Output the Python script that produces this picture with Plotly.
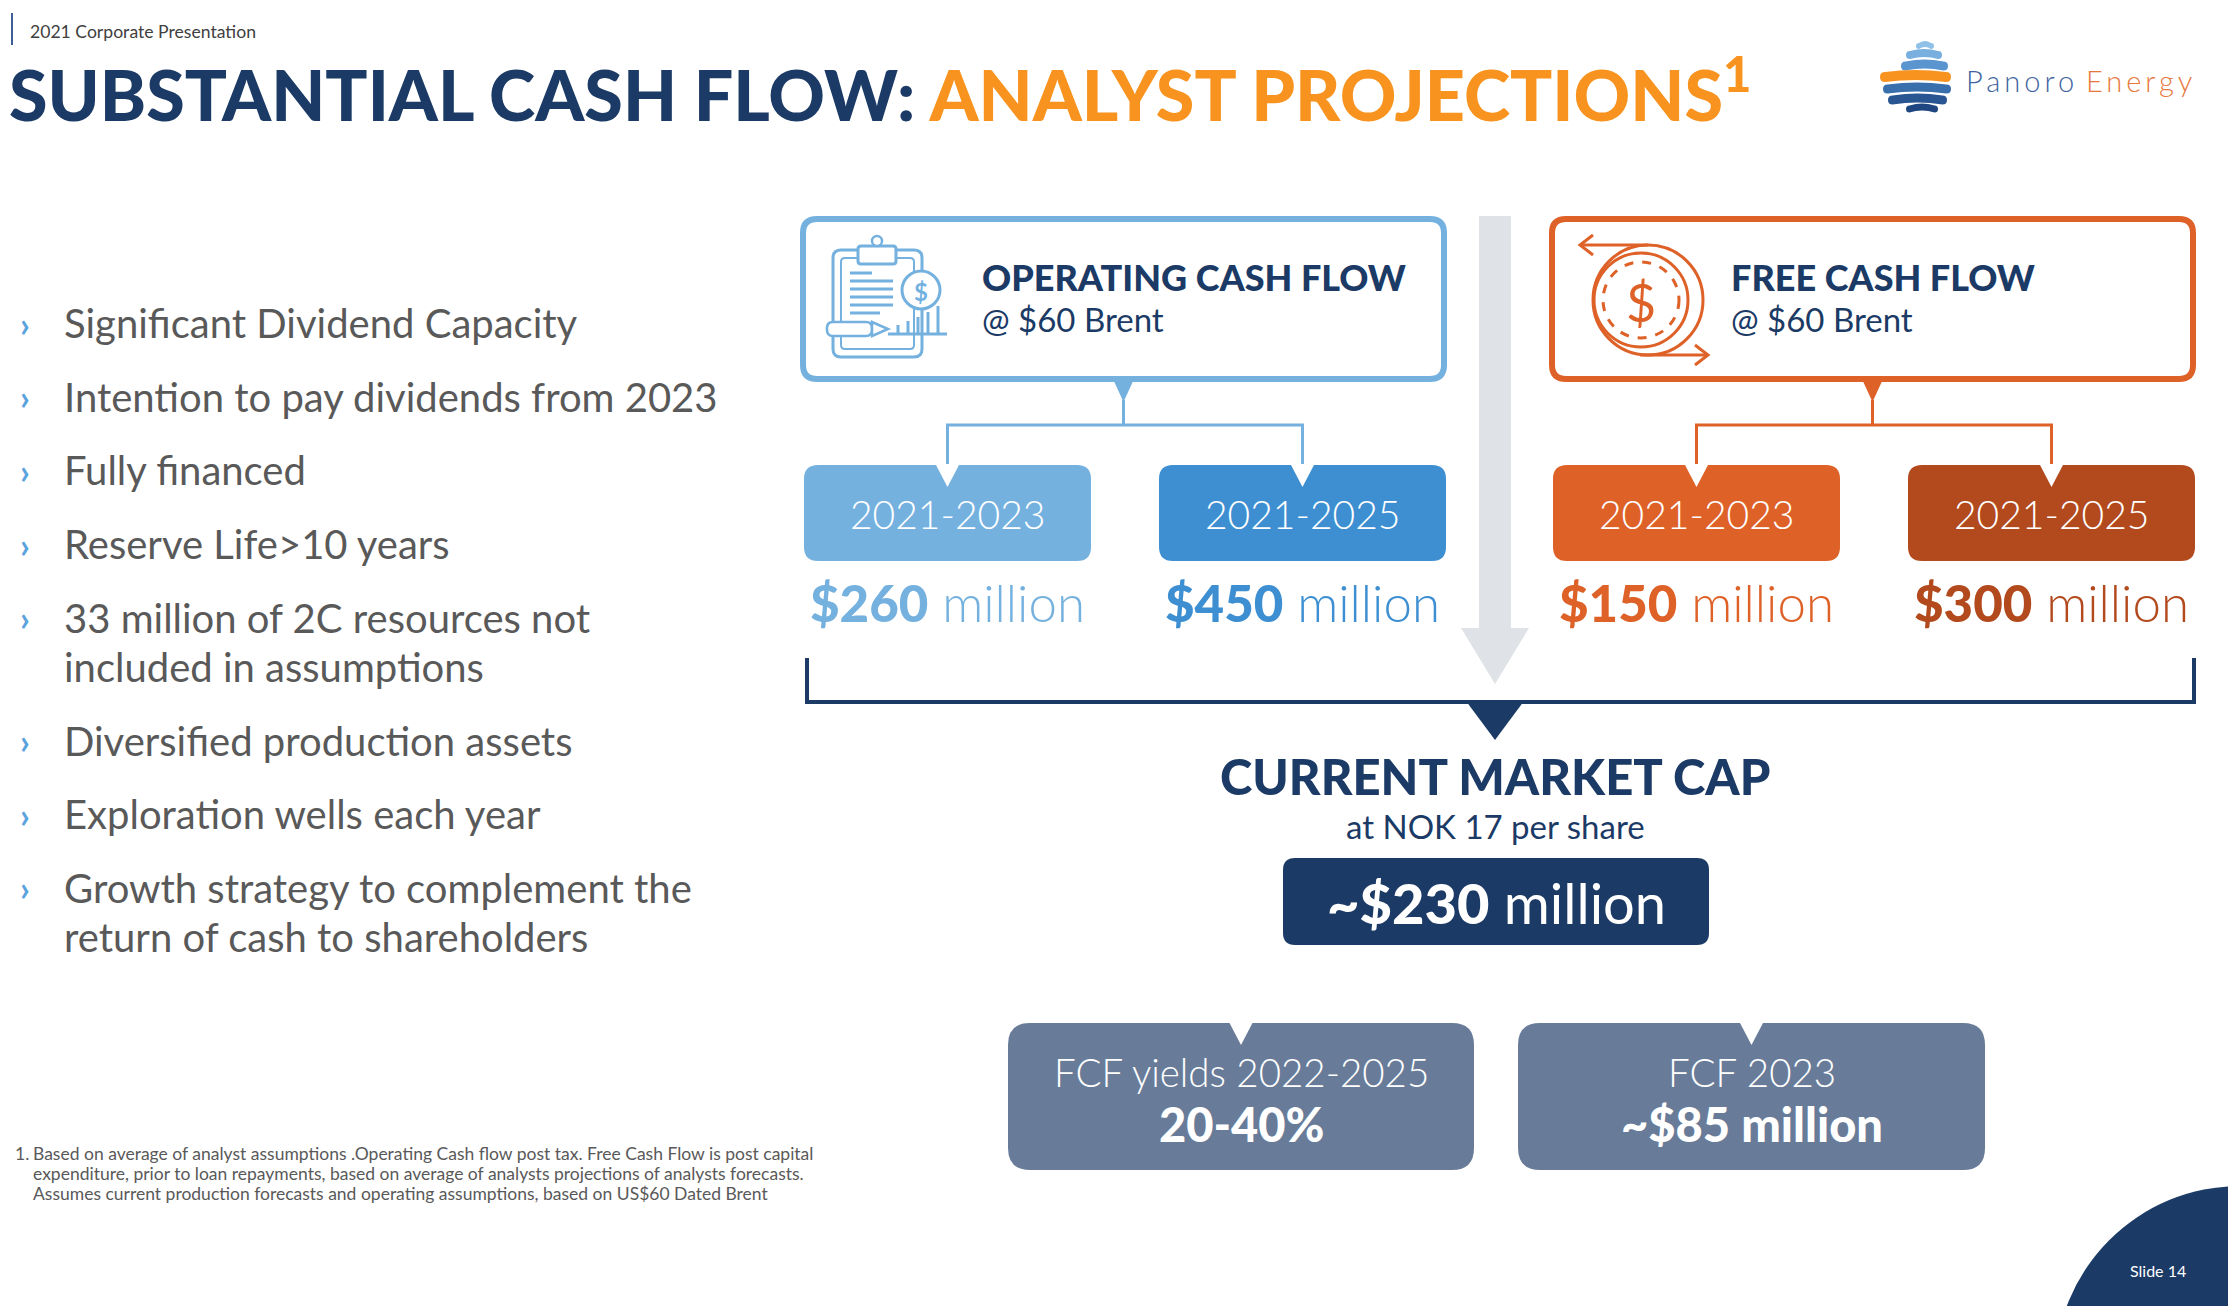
import plotly.graph_objects as go

# ---- slide content ----
bullets = [
    ["Significant Dividend Capacity"],
    ["Intention to pay dividends from 2023"],
    ["Fully financed"],
    ["Reserve Life>10 years"],
    ["33 million of 2C resources not", "included in assumptions"],
    ["Diversified production assets"],
    ["Exploration wells each year"],
    ["Growth strategy to complement the", "return of cash to shareholders"],
]
ocf_periods = ["2021-2023", "2021-2025"]
ocf_musd = [260, 450]
fcf_periods = ["2021-2023", "2021-2025"]
fcf_musd = [150, 300]
brent_usd = 60
share_price_nok = 17
market_cap_musd = 230
fcf_yield_pct = [20, 40]
fcf_yield_years = "2022-2025"
fcf_2023_musd = 85
slide_no = 14
footnote = [
    "Based on average of analyst assumptions .Operating Cash flow post tax. Free Cash Flow is post capital",
    "expenditure, prior to loan repayments, based on average of analysts projections of analysts forecasts.",
    "Assumes current production forecasts and operating assumptions, based on US$60 Dated Brent",
]

NAVY = "#1b3a65"
ORANGE_T = "#f7931e"
LB = "#75b1df"
MB = "#3d8fd1"
OR = "#de6128"
DOR = "#b24a1e"
GREY = "#dfe2e6"
SLATE = "#687c99"
TXT = "#595959"
W, H = 2228, 1306

shapes = []
annots = []


def rrect(x0, y0, x1, y1, r):
    return (f"M{x0+r},{y0} L{x1-r},{y0} Q{x1},{y0} {x1},{y0+r} L{x1},{y1-r} "
            f"Q{x1},{y1} {x1-r},{y1} L{x0+r},{y1} Q{x0},{y1} {x0},{y1-r} "
            f"L{x0},{y0+r} Q{x0},{y0} {x0+r},{y0} Z")


def path(d, fill=None, line=None, width=0, dash="solid"):
    shapes.append(dict(type="path", path=d, xref="x", yref="y",
                       fillcolor=fill or "rgba(0,0,0,0)",
                       line=dict(color=line or "rgba(0,0,0,0)", width=width, dash=dash)))


def circle(cx, cy, r, fill=None, line=None, width=0, dash="solid"):
    shapes.append(dict(type="circle", xref="x", yref="y", x0=cx-r, x1=cx+r, y0=cy-r, y1=cy+r,
                       fillcolor=fill or "rgba(0,0,0,0)",
                       line=dict(color=line or "rgba(0,0,0,0)", width=width, dash=dash)))


def txt(x, y, s, size, color, weight=400, xanchor="left", yanchor="middle", family="Lato"):
    annots.append(dict(x=x, y=y, xref="x", yref="y", text=s, showarrow=False,
                       xanchor=xanchor, yanchor=yanchor, align=xanchor if xanchor != "center" else "center",
                       font=dict(family=family, size=size, color=color, weight=weight)))


# ---- header ----
path("M12,13 L12,45", line="#3d5f96", width=2)
txt(28, 31, "2021 Corporate Presentation", 17.6, "#404040")
txt(7, 90, f"<span style='color:{NAVY}'>SUBSTANTIAL CASH FLOW: </span>"
    f"<span style='color:{ORANGE_T}'>ANALYST PROJECTIONS<sup>1</sup></span>", 70, NAVY, weight=900)

# logo: curved stripes of a globe
stripes = [(1916, 1934, 46, 6, "#8fc0e8"), (1906, 1942, 55, 8, "#78afdf"),
           (1901, 1948, 66, 9, "#5b95cf"), (1880, 1951, 77, 10, ORANGE_T),
           (1883, 1951, 89, 9, "#3a6fae"), (1888, 1947, 100, 9, "#2a5593"),
           (1906, 1938, 109, 7, "#1f4680")]
for xl, xr, yc, h, c in stripes:
    r = h / 2
    xm = (xl + xr) / 2
    b = -4
    path(f"M{xl+r},{yc-r} Q{xm},{yc-r+b} {xr-r},{yc-r} Q{xr},{yc-r} {xr},{yc} Q{xr},{yc+r} {xr-r},{yc+r} "
         f"Q{xm},{yc+r+b} {xl+r},{yc+r} Q{xl},{yc+r} {xl},{yc} Q{xl},{yc-r} {xl+r},{yc-r} Z", fill=c)
txt(1964, 80, "<span style='letter-spacing:4px'>Panoro</span> "
    "<span style='letter-spacing:4px;fill:#e8773d'>Energy</span>", 29, "#3e64a0", weight=300)

# ---- bullets ----
y = 323
for item in bullets:
    txt(18, y, "<b>›</b>", 34, "#5ba3dc")
    for k, line in enumerate(item):
        txt(62, y + 49 * k, line, 40, TXT)
    y += 73.7 + 49 * (len(item) - 1)

# footnote
txt(13, 1153, "1.", 17.5, TXT)
for k, line in enumerate(footnote):
    txt(31, 1153 + 20 * k, line, 17.5, TXT)

# ---- central grey arrow ----
path("M1479,216 L1511,216 L1511,628 L1529,628 L1495,684 L1461,628 L1479,628 Z", fill=GREY)


def panel(x0, x1, color, sub_colors, periods, values, title, icon):
    path(rrect(x0 + 3, 219, x1 - 3, 379, 14), fill="white", line=color, width=6)
    cx = (x0 + x1) / 2
    path(f"M{cx-11},378 L{cx+11},378 L{cx},402 Z", fill=color)
    path(f"M{cx},400 L{cx},425", line=color, width=3)
    subw = 287
    centers = [x0 + 4 + subw / 2, x1 - 1 - subw / 2]
    path(f"M{centers[0]},466 L{centers[0]},425 L{centers[1]},425 L{centers[1]},466", line=color, width=3)
    for sc, col, per, val in zip(centers, sub_colors, periods, values):
        path(rrect(sc - subw / 2, 465, sc + subw / 2, 561, 14), fill=col)
        path(f"M{sc-12},464 L{sc+12},464 L{sc},487 Z", fill="white")
        txt(sc, 514, per, 39, "white", weight=300, xanchor="center")
        txt(sc, 602, f"<span style='font-weight:900'>${val}</span> million", 51, col,
            weight=300, xanchor="center")
    tx = x0 + 180
    txt(tx, 277, title, 36, NAVY, weight=900)
    txt(tx, 319, f"@ ${brent_usd} Brent", 33, NAVY)
    icon()


def clipboard_icon():
    path(rrect(833, 250, 922, 357, 8), line=LB, width=3)
    path(rrect(841, 258, 914, 349, 4), line=LB, width=2)
    path(rrect(858, 246, 896, 264, 3), fill="white", line=LB, width=3)
    circle(877, 241, 5, fill="white", line=LB, width=2.5)
    for yy, xe in zip([273, 281, 289, 297, 305, 313], [872, 893, 893, 893, 893, 880]):
        path(f"M850,{yy} L{xe},{yy}", line=LB, width=3)
    circle(921, 290, 19, fill="white", line=LB, width=3)
    txt(921, 291, "<b>$</b>", 24, LB, xanchor="center")
    path("M888,334 L947,334", line=LB, width=3)
    for bx, top in zip([898, 908, 918, 928, 938], [325, 321, 317, 312, 306]):
        path(f"M{bx},334 L{bx},{top}", line=LB, width=3)
    path(rrect(827, 322, 872, 336, 6), fill="white", line=LB, width=2.5)
    path("M872,322 L888,329 L872,336 Z", fill="white", line=LB, width=2.5)


def coin_icon():
    circle(1648, 300, 55, fill="white", line=OR, width=3)
    circle(1641, 300, 47, fill="white", line=OR, width=3)
    circle(1641, 300, 38, line=OR, width=3, dash="dash")
    txt(1641, 302, "$", 52, OR, xanchor="center")
    path("M1648,245 L1580,245", line=OR, width=3)
    path("M1593,235 L1580,245 L1593,255", line=OR, width=3)
    path("M1640,355 L1708,355", line=OR, width=3)
    path("M1695,345 L1708,355 L1695,365", line=OR, width=3)


panel(800, 1447, LB, [LB, MB], ocf_periods, ocf_musd, "OPERATING CASH FLOW", clipboard_icon)
panel(1549, 2196, OR, [OR, DOR], fcf_periods, fcf_musd, "FREE CASH FLOW", coin_icon)

# ---- bracket & market cap ----
path("M807,658 L807,702 L2194,702 L2194,658", line=NAVY, width=4)
path("M1466,701 L1524,701 L1495,740 Z", fill=NAVY)
txt(1495, 776, "CURRENT MARKET CAP", 49, NAVY, weight=900, xanchor="center")
txt(1495, 826, f"at NOK {share_price_nok} per share", 33, NAVY, xanchor="center")
path(rrect(1283, 858, 1709, 945, 12), fill=NAVY)
txt(1496, 902, f"<span style='font-weight:900'>~${market_cap_musd}</span> million", 56, "white",
    xanchor="center")

# ---- FCF yield boxes ----
boxes = [(1008, 1474, f"FCF yields {fcf_yield_years}", f"{fcf_yield_pct[0]}-{fcf_yield_pct[1]}%"),
         (1518, 1985, "FCF 2023", f"~${fcf_2023_musd} million")]
for x0, x1, l1, l2 in boxes:
    cx = (x0 + x1) / 2
    path(rrect(x0, 1023, x1, 1170, 22), fill=SLATE)
    path(f"M{cx-12},1022 L{cx+12},1022 L{cx},1045 Z", fill="white")
    txt(cx, 1072, l1, 38.5, "white", weight=300, xanchor="center")
    txt(cx, 1124, l2, 47, "white", weight=900, xanchor="center")

# ---- slide corner ----
circle(2240, 1371, 185, fill=NAVY)
txt(2158, 1270, f"Slide {slide_no}", 16, "white", xanchor="center")

fig = go.Figure(go.Scatter(x=[0], y=[0], mode="markers", marker=dict(opacity=0), hoverinfo="skip"))
fig.update_layout(
    width=W, height=H, autosize=False,
    margin=dict(l=0, r=0, t=0, b=0, pad=0),
    paper_bgcolor="white", plot_bgcolor="white",
    xaxis=dict(range=[0, W], visible=False, fixedrange=True),
    yaxis=dict(range=[H, 0], visible=False, fixedrange=True),
    showlegend=False,
    shapes=shapes, annotations=annots,
)
fig.write_html("out.html", config={"displayModeBar": False},
               post_script="document.body.style.margin='0';document.body.style.overflow='hidden';")
